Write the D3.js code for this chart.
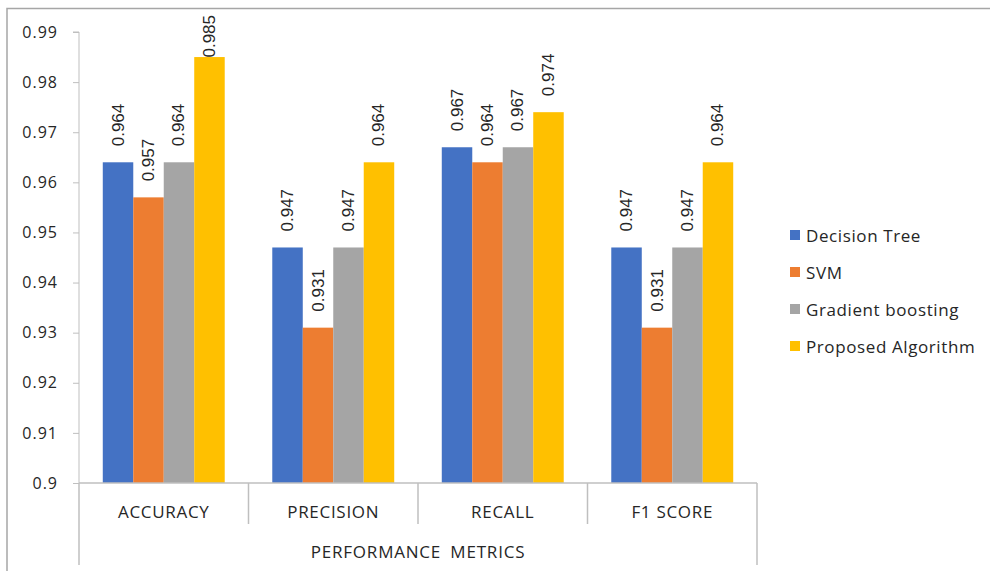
<!DOCTYPE html>
<html>
<head>
<meta charset="utf-8">
<script src="https://cdn.jsdelivr.net/npm/d3@7"></script>
<style>
  body { margin: 0; background: #fff; }
  text { font-family: "Open Sans", "Liberation Sans", sans-serif; fill: #262626; }
</style>
</head>
<body>
<div id="chart"></div>
<script>
var width = 990, height = 571

// data
var categories = ['ACCURACY', 'PRECISION', 'RECALL', 'F1 SCORE']
var series = ['Decision Tree', 'SVM', 'Gradient boosting', 'Proposed Algorithm']
var decisionTree = [0.964, 0.947, 0.967, 0.947]
var svmValues = [0.957, 0.931, 0.964, 0.931]
var gradientBoosting = [0.964, 0.947, 0.967, 0.947]
var proposedAlgorithm = [0.985, 0.964, 0.974, 0.964]
var yTicks = [0.9, 0.91, 0.92, 0.93, 0.94, 0.95, 0.96, 0.97, 0.98, 0.99]
var groupLabel = 'PERFORMANCE METRICS'

var colors = ['#4472C4', '#ED7D31', '#A5A5A5', '#FFC000']
var seriesValues = [decisionTree, svmValues, gradientBoosting, proposedAlgorithm]

var margin = { top: 32, left: 79, right: 233, bottom: 88 }

var svg = d3.select('#chart')
  .append('svg')
  .attr('width', width)
  .attr('height', height)

// chart border (top and left edges only visible)
svg.append('path')
  .attr('d', `M7,${height} V8.5 H${width}`)
  .attr('fill', 'none')
  .attr('stroke', '#a6a6a6')
  .attr('stroke-width', 1.5)

var xScale = d3.scaleBand()
  .domain(categories)
  .range([margin.left, width - margin.right])

var xInner = d3.scaleBand()
  .domain(series)
  .range([0, xScale.bandwidth()])
  .paddingOuter(0.78)

var yScale = d3.scaleLinear()
  .domain([0.9, 0.99])
  .range([height - margin.bottom, margin.top])

var y0 = yScale(0.9)

// Y axis
var yAxis = d3.axisLeft(yScale)
  .tickValues(yTicks)
  .tickFormat(d => String(+d.toFixed(2)))
  .tickSize(6)
  .tickPadding(15)

svg.append('g')
  .attr('transform', `translate(${margin.left},0)`)
  .attr('class', 'y-axis')
  .call(yAxis)
  .call(g => g.selectAll('line, path').attr('stroke', '#bfbfbf'))
  .call(g => g.select('.domain').attr('d', `M-6,${margin.top}H0V${y0}`))
  .selectAll('text')
  .style('font-size', '16px')
  .style('letter-spacing', '1px')
  .style('fill', '#262626')

// bars
var groups = svg.selectAll('.group')
  .data(categories)
  .enter()
  .append('g')
  .attr('class', 'group')
  .attr('transform', d => `translate(${xScale(d)},0)`)

groups.selectAll('rect')
  .data((d, i) => series.map((s, j) => ({ s: s, v: seriesValues[j][i], c: colors[j] })))
  .enter()
  .append('rect')
  .attr('x', d => xInner(d.s))
  .attr('y', d => yScale(d.v))
  .attr('width', xInner.bandwidth())
  .attr('height', d => y0 - yScale(d.v))
  .style('fill', d => d.c)

// value labels, rotated, kept inside chart area
groups.selectAll('.val')
  .data((d, i) => series.map((s, j) => ({ s: s, v: seriesValues[j][i] })))
  .enter()
  .append('text')
  .attr('class', 'val')
  .text(d => d.v.toFixed(3))
  .style('font-family', '"Liberation Sans", Arial, sans-serif')
  .style('font-size', '17px')
  .style('fill', '#262626')
  .attr('dominant-baseline', 'central')
  .attr('transform', function(d) {
    var len = this.getComputedTextLength()
    var yy = Math.max(yScale(d.v) - 16, 15 + len)
    return `translate(${xInner(d.s) + xInner.bandwidth() / 2},${yy}) rotate(-90)`
  })

// X axis line
svg.append('line')
  .attr('x1', margin.left).attr('x2', width - margin.right)
  .attr('y1', y0).attr('y2', y0)
  .attr('stroke', '#bfbfbf').attr('stroke-width', 1.5)

// category separators
var bounds = categories.map(c => xScale(c)).concat([xScale.range()[1]])
svg.selectAll('.sep')
  .data(bounds)
  .enter()
  .append('line')
  .attr('x1', d => d).attr('x2', d => d)
  .attr('y1', y0)
  .attr('y2', (d, i) => (i === 0 || i === bounds.length - 1) ? 565 : 524)
  .attr('stroke', '#bfbfbf')
  .attr('stroke-width', 1.5)

// category labels
svg.selectAll('.cat')
  .data(categories)
  .enter()
  .append('text')
  .attr('x', d => xScale(d) + xScale.bandwidth() / 2)
  .attr('y', 511)
  .attr('text-anchor', 'middle')
  .attr('dominant-baseline', 'central')
  .style('font-size', '17px')
  .style('letter-spacing', '0.7px')
  .text(d => d)

svg.append('text')
  .attr('x', (xScale.range()[0] + xScale.range()[1]) / 2)
  .attr('y', 551)
  .attr('text-anchor', 'middle')
  .attr('dominant-baseline', 'central')
  .style('font-size', '17px')
  .style('letter-spacing', '0.8px')
  .style('word-spacing', '4px')
  .text(groupLabel)

// legend
var legend = svg.selectAll('.legend')
  .data(series)
  .enter()
  .append('g')
  .attr('class', 'legend')
  .attr('transform', (d, i) => `translate(790,${235 + i * 37})`)

legend.append('rect')
  .attr('x', 0).attr('y', -5)
  .attr('width', 10).attr('height', 10)
  .style('fill', (d, i) => colors[i])

legend.append('text')
  .attr('x', 16)
  .attr('y', 0)
  .attr('dominant-baseline', 'central')
  .style('font-size', '17px')
  .style('letter-spacing', '0.6px')
  .text(d => d)
</script>
</body>
</html>
